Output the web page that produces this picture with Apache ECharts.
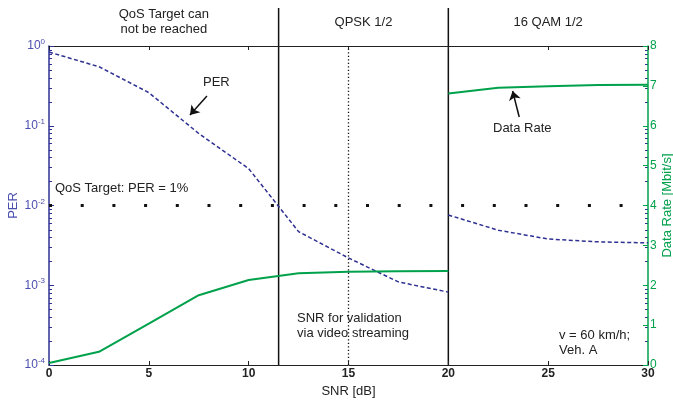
<!DOCTYPE html>
<html>
<head>
<meta charset="utf-8">
<script src="https://cdn.jsdelivr.net/npm/echarts@6/dist/echarts.min.js"></script>
<style>
  html, body { margin: 0; background: #fff; }
  #chart { width: 673px; height: 400px; }
</style>
</head>
<body>
<div id="chart"></div>
<script>
// QPSK 1/2 region (SNR up to 20 dB)
const snrLow = [0, 2.5, 5, 7.5, 10, 12.5, 15, 17.5, 20]
const perLow = [0.84, 0.55, 0.26, 0.08, 0.029, 0.0047, 0.0022, 0.0011, 0.00082]
const rateLow = [0.05, 0.33, 1.04, 1.75, 2.13, 2.30, 2.34, 2.35, 2.36]
// 16 QAM 1/2 region
const snrHigh = [20, 22.5, 25, 27.5, 30]
const perHigh = [0.0076, 0.0049, 0.0038, 0.0035, 0.0034]
const rateHigh = [6.81, 6.95, 6.99, 7.02, 7.03]

const qosTarget = 0.01
const switchPoints = [11.5, 20]
const validationSnr = 15
const regionLabels = ['QoS Target can\nnot be reached', 'QPSK 1/2', '16 QAM 1/2']
const perDecades = [-4, -3, -2, -1]

const blue = '#2e3192'
const blueText = '#4b4fae'
const green = '#00a14b'
const font = 'Liberation Sans, Arial, sans-serif'

const pairs = (xs, ys) => xs.map((x, i) => [x, ys[i]])

const chart = echarts.init(document.getElementById('chart'))

const arrowLine = (from, to) => [
  { coord: from, symbol: 'none' },
  { coord: to, symbol: 'arrow' }
]

chart.setOption({
  animation: false,
  textStyle: { fontFamily: font },
  grid: { left: 49, right: 25, top: 46, bottom: 35, containLabel: false, outerBoundsMode: 'none' },
  xAxis: [{
    type: 'value',
    min: 0,
    max: 30,
    interval: 5,
    name: 'SNR [dB]',
    nameLocation: 'middle',
    nameGap: 9,
    nameTextStyle: { fontSize: 13, color: '#222' },
    axisLine: { onZero: false, lineStyle: { color: '#222', width: 1 } },
    axisTick: { inside: true, length: 4, lineStyle: { color: '#222' } },
    axisLabel: { color: '#222', fontSize: 12, fontWeight: 'bold', margin: 3 },
    splitLine: { show: false }
  }, {
    type: 'value',
    position: 'top',
    min: 0,
    max: 30,
    interval: 5,
    axisLine: { onZero: false, lineStyle: { color: '#222', width: 1 } },
    axisTick: { inside: true, length: 4, lineStyle: { color: '#222' } },
    axisLabel: { show: false },
    splitLine: { show: false }
  }],
  yAxis: [{
    type: 'log',
    logBase: 10,
    min: 1e-4,
    max: 1,
    name: 'PER',
    nameLocation: 'middle',
    nameGap: 29,
    nameMoveOverlap: false,
    nameRotate: 90,
    nameTextStyle: { fontSize: 13, color: blueText },
    axisLine: { onZero: false, lineStyle: { color: blue, width: 1.5 } },
    axisTick: { inside: true, length: 5, lineStyle: { color: blue } },
    axisLabel: {
      margin: 4,
      formatter: v => '{b|10}{s|' + Math.round(Math.log10(v)) + '}',
      rich: {
        b: { fontSize: 12, color: blueText, fontFamily: font },
        s: { fontSize: 8, color: blueText, fontFamily: font, verticalAlign: 'top', padding: [0, 0, 8, 0] }
      }
    },
    splitLine: { show: false }
  }, {
    type: 'value',
    position: 'right',
    min: 0,
    max: 8,
    interval: 1,
    name: 'Data Rate [Mbit/s]',
    nameLocation: 'middle',
    nameGap: 13,
    nameMoveOverlap: false,
    nameRotate: 90,
    nameTextStyle: { fontSize: 13, color: green },
    axisLine: { onZero: false, lineStyle: { color: green, width: 1.5 } },
    axisTick: { inside: true, length: 5, lineStyle: { color: green } },
    axisLabel: { color: green, fontSize: 12, margin: 2 },
    splitLine: { show: false }
  }],
  series: [{
    name: 'PER',
    type: 'line',
    yAxisIndex: 0,
    data: pairs(snrLow, perLow),
    showSymbol: false,
    lineStyle: { color: blue, width: 1.5, type: [4, 2.5] },
    markLine: {
      silent: true,
      symbol: 'none',
      label: { show: false },
      data: [
        { yAxis: qosTarget, lineStyle: { color: '#111', width: 3, type: [3, 28.7] } },
        { xAxis: validationSnr, lineStyle: { color: '#111', width: 1.3, type: [1.3, 2.2] } },
        arrowLine([7.91, 0.236], [7.06, 0.136])
      ],
      lineStyle: { color: '#111', width: 1.5, type: 'solid' },
      symbolSize: 9
    }
  }, {
    name: 'PER 16QAM',
    type: 'line',
    yAxisIndex: 0,
    data: pairs(snrHigh, perHigh),
    showSymbol: false,
    lineStyle: { color: blue, width: 1.5, type: [4, 2.5] }
  }, {
    name: 'Data Rate',
    type: 'line',
    yAxisIndex: 1,
    data: pairs(snrLow, rateLow),
    showSymbol: false,
    lineStyle: { color: green, width: 2 }
  }, {
    name: 'Data Rate 16QAM',
    type: 'line',
    yAxisIndex: 1,
    data: pairs(snrHigh, rateHigh),
    showSymbol: false,
    lineStyle: { color: green, width: 2 },
    markLine: {
      silent: true,
      symbol: 'none',
      symbolSize: 9,
      label: { show: false },
      lineStyle: { color: '#111', width: 1.5, type: 'solid' },
      data: [arrowLine([23.55, 6.22], [23.22, 6.87])]
    }
  }]
})

// region separators reach above the plot, region titles sit on top
const bottomY = chart.convertToPixel({ yAxisIndex: 1 }, 0)
const leftX = chart.convertToPixel({ xAxisIndex: 0 }, 0)
const rightX = chart.convertToPixel({ xAxisIndex: 0 }, 30)
const sepX = switchPoints.map(s => chart.convertToPixel({ xAxisIndex: 0 }, s))
const edges = [leftX, ...sepX, rightX]

// log minor ticks (2..9 per decade) on both sides, as in the plotyy figure
const minorTicks = []
perDecades.forEach(d => {
  for (let m = 2; m <= 9; m++) {
    const y = Math.round(chart.convertToPixel({ yAxisIndex: 0 }, m * Math.pow(10, d))) + 0.5
    minorTicks.push({ type: 'line', shape: { x1: leftX, y1: y, x2: leftX + 3, y2: y }, style: { stroke: blue, lineWidth: 1 } })
    minorTicks.push({ type: 'line', shape: { x1: rightX - 3, y1: y, x2: rightX, y2: y }, style: { stroke: blue, lineWidth: 1 } })
  }
})

const txt = (x, y, text, align) => ({
  type: 'text',
  x, y,
  style: {
    text,
    fill: '#222',
    font: '13px ' + font,
    align: align || 'left',
    verticalAlign: 'middle',
    lineHeight: 15
  }
})

chart.setOption({
  graphic: [
    ...minorTicks,
    ...sepX.map(x => ({
      type: 'line',
      shape: { x1: x, y1: 8, x2: x, y2: bottomY },
      style: { stroke: '#111', lineWidth: 1.5 }
    })),
    ...regionLabels.map((t, i) => txt((edges[i] + edges[i + 1]) / 2, 22, t, 'center')),
    txt(203, 82, 'PER'),
    txt(493, 128, 'Data Rate'),
    txt(55, 188, 'QoS Target: PER = 1%'),
    txt(297, 326, 'SNR for validation\nvia video streaming'),
    txt(559, 343, 'v = 60 km/h;\nVeh. A')
  ]
})
</script>
</body>
</html>
